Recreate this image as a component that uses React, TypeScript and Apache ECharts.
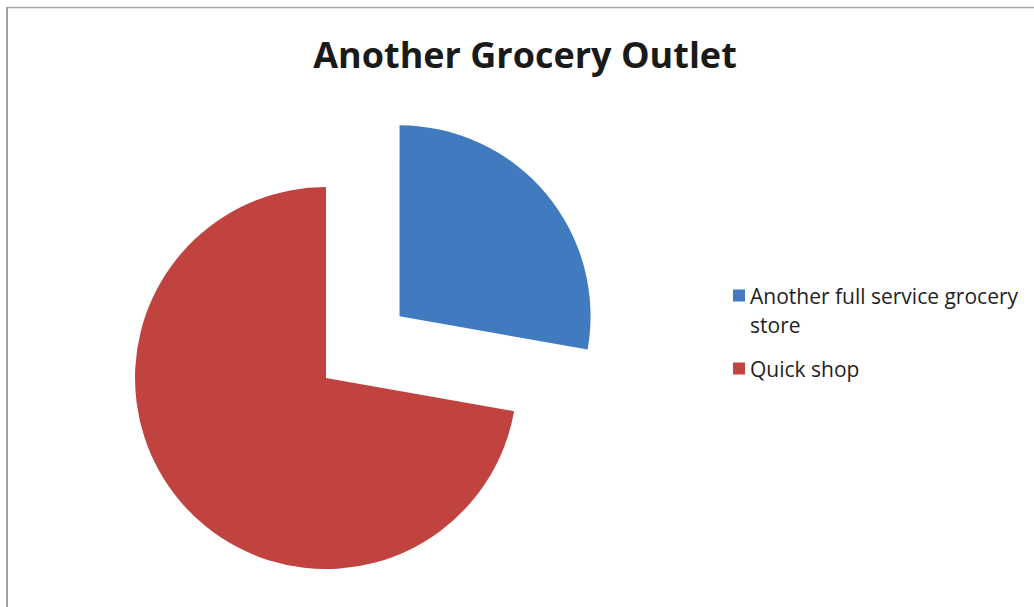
import React, { useEffect, useRef } from "react";
import * as echarts from "echarts";

const categories = ["Another full service grocery store", "Quick shop"];
const values = [5, 13];
const colors = ["#3F7BBE", "#C0433F"];
const titleText = "Another Grocery Outlet";

export default function App() {
  const ref = useRef<HTMLDivElement>(null);
  useEffect(() => {
    const chart = echarts.init(ref.current!, undefined, { renderer: "svg" });
    const font = "'Open Sans', sans-serif";
    const legendText = { fontFamily: font, fontSize: 21, color: "#1f1f1f", lineHeight: 29 };
    chart.setOption({
      animation: false,
      backgroundColor: "#ffffff",
      title: {
        text: titleText,
        left: 520,
        top: 31,
        textAlign: "center",
        textStyle: { fontFamily: font, fontWeight: "bold", fontSize: 36, color: "#1a1a1a" },
      },
      legend: [
        {
          orient: "vertical",
          left: 733,
          top: 252,
          padding: 0,
          itemWidth: 12,
          itemHeight: 12,
          icon: "rect",
          selectedMode: false,
          data: [categories[0]],
          formatter: (n: string) => "\n" + n.replace(" store", "\nstore"),
          textStyle: legendText,
        },
        {
          orient: "vertical",
          left: 733,
          top: 354,
          padding: 0,
          itemWidth: 12,
          itemHeight: 12,
          icon: "rect",
          selectedMode: false,
          data: [categories[1]],
          textStyle: legendText,
        },
      ],
      graphic: [
        { type: "line", shape: { x1: 7, y1: 7.5, x2: 1034, y2: 7.5 }, style: { stroke: "#a8a8a8", lineWidth: 1.5 } },
        { type: "line", shape: { x1: 7, y1: 7, x2: 7, y2: 607 }, style: { stroke: "#a0a0a0", lineWidth: 2 } },
      ],
      series: [
        {
          type: "pie",
          center: [326, 378],
          radius: 191,
          startAngle: 90,
          clockwise: true,
          selectedMode: "single",
          selectedOffset: 96,
          label: { show: false },
          labelLine: { show: false },
          emphasis: { disabled: true },
          itemStyle: { borderWidth: 0 },
          data: categories.map((c, i) => ({
            name: c,
            value: values[i],
            selected: i === 0,
            itemStyle: { color: colors[i] },
          })),
        },
      ],
    });
    return () => chart.dispose();
  }, []);
  return <div ref={ref} style={{ position: "fixed", left: 0, top: 0, width: 1034, height: 607 }} />;
}
